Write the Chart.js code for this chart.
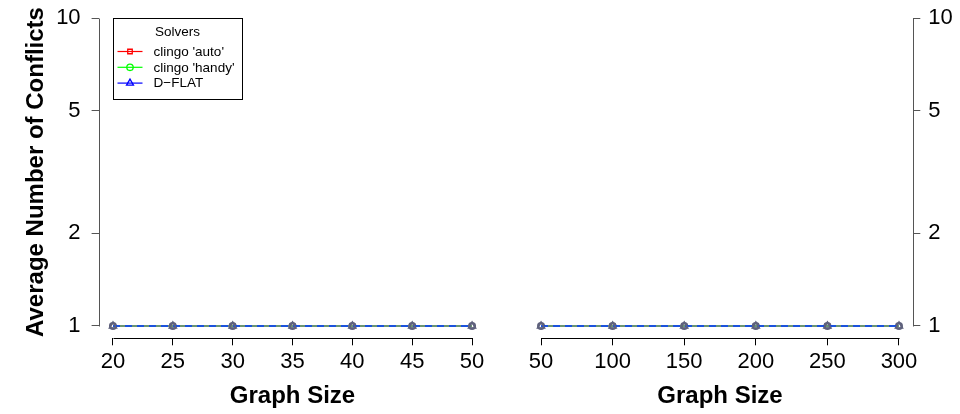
<!DOCTYPE html>
<html>
<head>
<meta charset="utf-8">
<script src="https://cdn.jsdelivr.net/npm/chart.js@4.4.1/dist/chart.umd.min.js"></script>
<style>
  html, body { margin: 0; padding: 0; background: #fff; }
  #wrap { position: relative; width: 960px; height: 414px; }
  #leftChart { position: absolute; left: 0; top: 0; }
  #rightChart { position: absolute; left: 500px; top: 0; }
</style>
</head>
<body>
<div id="wrap">
  <canvas id="leftChart" width="500" height="414"></canvas>
  <canvas id="rightChart" width="460" height="414"></canvas>
</div>
<script>
// Solvers
const solverNames = ["clingo 'auto'", "clingo 'handy'", 'D\u2212FLAT'];
const solverColors = ['#ff0000', '#00ff00', '#0000ff'];
const solverMarkers = ['rect', 'circle', 'triangle'];

// Left panel: small graphs
const smallSizes = [20, 25, 30, 35, 40, 45, 50];
const smallAuto  = [1, 1, 1, 1, 1, 1, 1];
const smallHandy = [1, 1, 1, 1, 1, 1, 1];
const smallDflat = [1, 1, 1, 1, 1, 1, 1];
const smallTicks = [20, 25, 30, 35, 40, 45, 50];

// Right panel: large graphs
const largeSizes = [50, 100, 150, 200, 250, 300];
const largeAuto  = [1, 1, 1, 1, 1, 1];
const largeHandy = [1, 1, 1, 1, 1, 1];
const largeDflat = [1, 1, 1, 1, 1, 1];
const largeTicks = [50, 100, 150, 200, 250, 300];

const yTicks = [1, 2, 5, 10];

Chart.defaults.font.family = "'Liberation Sans', Arial, sans-serif";
Chart.defaults.color = '#000';

const FONT = { size: 22 };
const TITLE_FONT = { size: 24, weight: 'bold' };

function pad4(min, max) {
  // R style axis extension (4% each side)
  const d = (max - min) * 0.04;
  return [min - d, max + d];
}

function makeDatasets(xs, auto, handy, dflat) {
  const series = [auto, handy, dflat];
  const lineCols = ['rgba(110,110,120,1)', 'rgba(0,160,0,0.35)', 'rgba(0,60,255,1)'];
  const dashes = [[], [], [7, 5]];
  const radii = [3.2, 3.2, 4];
  return series.map((vals, i) => ({
    label: solverNames[i],
    data: xs.map((x, j) => ({ x: x, y: vals[j] })),
    borderColor: lineCols[i],
    borderWidth: 1.3,
    borderDash: dashes[i],
    pointStyle: solverMarkers[i],
    pointRadius: radii[i],
    pointBorderWidth: 1.6,
    pointBorderColor: 'rgba(95,98,125,1)',
    pointBackgroundColor: 'rgba(0,0,0,0)',
    order: 3 - i,
    tension: 0,
    fill: false,
  }));
}

// draws R-like axis lines spanning only from first to last tick
const rAxes = {
  id: 'rAxes',
  afterDraw(chart, args, opts) {
    const ctx = chart.ctx;
    const x = chart.scales.x, y = chart.scales.y;
    ctx.save();
    ctx.lineWidth = 1;
    ctx.strokeStyle = '#000';
    const yb = Math.round(chart.chartArea.bottom) + 0.5;
    ctx.beginPath();
    ctx.moveTo(Math.round(x.getPixelForValue(opts.xTicks[0])) + 0.5, yb);
    ctx.lineTo(Math.round(x.getPixelForValue(opts.xTicks[opts.xTicks.length - 1])) + 0.5, yb);
    ctx.stroke();
    ctx.strokeStyle = '#555';
    const xa = Math.round(opts.side === 'left' ? chart.chartArea.left : chart.chartArea.right) + 0.5;
    ctx.beginPath();
    ctx.moveTo(xa, Math.round(y.getPixelForValue(yTicks[0])) + 0.5);
    ctx.lineTo(xa, Math.round(y.getPixelForValue(yTicks[yTicks.length - 1])) + 0.5);
    ctx.stroke();
    ctx.restore();
  }
};

// boxed legend at top-left of the data range
const boxLegend = {
  id: 'boxLegend',
  afterDraw(chart, args, opts) {
    if (!opts.show) return;
    const ctx = chart.ctx;
    const left = Math.round(chart.scales.x.getPixelForValue(smallSizes[0])) + 0.5;
    const top = Math.round(chart.scales.y.getPixelForValue(10)) + 0.5;
    const w = 129, h = 81;
    ctx.save();
    ctx.strokeStyle = '#000';
    ctx.lineWidth = 1;
    ctx.strokeRect(left, top, w, h);
    ctx.fillStyle = '#000';
    ctx.font = "13.5px 'Liberation Sans', Arial, sans-serif";
    ctx.textAlign = 'center';
    ctx.textBaseline = 'middle';
    ctx.fillText('Solvers', left + 64, top + 13.5);
    ctx.textAlign = 'left';
    for (let i = 0; i < solverNames.length; i++) {
      const cy = top + 33 + i * 15.8;
      ctx.strokeStyle = solverColors[i];
      ctx.lineWidth = 1.2;
      ctx.beginPath();
      ctx.moveTo(left + 4, cy);
      ctx.lineTo(left + 29, cy);
      ctx.stroke();
      ctx.fillStyle = 'rgba(0,0,0,0)';
      ctx.lineWidth = 1.3;
      Chart.helpers.drawPoint(ctx, { pointStyle: solverMarkers[i], radius: i === 2 ? 4 : 3.2, borderWidth: 1.3, rotation: 0 }, left + 16.5, cy);
      ctx.fillStyle = '#000';
      ctx.fillText(solverNames[i], left + 40, cy + 0.5);
    }
    ctx.restore();
  }
};

function makeChart(canvasId, xs, auto, handy, dflat, xTicks, side) {
  const [xmin, xmax] = pad4(xs[0], xs[xs.length - 1]);
  const ymin = Math.pow(10, -0.04), ymax = Math.pow(10, 1.04);
  const isLeft = side === 'left';
  return new Chart(document.getElementById(canvasId), {
    type: 'line',
    data: { datasets: makeDatasets(xs, auto, handy, dflat) },
    plugins: [rAxes, boxLegend],
    options: {
      responsive: false,
      animation: false,
      layout: {
        padding: isLeft
          ? { left: 0, top: 5.7, right: 13.6, bottom: 0 }
          : { left: 26.7, top: 5.7, right: 0, bottom: 0 }
      },
      scales: {
        x: {
          type: 'linear',
          min: xmin,
          max: xmax,
          afterBuildTicks: s => { s.ticks = xTicks.map(v => ({ value: v })); },
          afterFit: s => { s.height = 75.7; s.paddingLeft = 0; s.paddingRight = 0; },
          border: { display: false },
          grid: { drawOnChartArea: false, drawTicks: true, tickLength: 7, color: '#000', tickColor: '#000' },
          ticks: { font: FONT, color: '#000', padding: 3, maxRotation: 0, autoSkip: false, callback: v => String(v) },
          title: { display: true, text: 'Graph Size', font: TITLE_FONT, color: '#000', padding: { top: 0, bottom: 3 } }
        },
        y: {
          type: 'logarithmic',
          position: side,
          min: ymin,
          max: ymax,
          afterBuildTicks: s => { s.ticks = yTicks.map(v => ({ value: v })); },
          afterFit: s => { s.width = isLeft ? 98.6 : 46.7; s.paddingTop = 0; s.paddingBottom = 0; },
          border: { display: false },
          grid: { drawOnChartArea: false, drawTicks: true, tickLength: 7, color: '#555', tickColor: '#555' },
          ticks: { font: FONT, color: '#000', padding: isLeft ? 11 : 8, autoSkip: false, callback: v => String(v) },
          title: {
            display: isLeft,
            text: 'Average Number of Conflicts',
            font: TITLE_FONT,
            color: '#000',
            padding: { top: 22, bottom: 0 }
          }
        }
      },
      plugins: {
        legend: { display: false },
        tooltip: { enabled: false },
        rAxes: { side: side, xTicks: xTicks },
        boxLegend: { show: isLeft }
      }
    }
  });
}

makeChart('leftChart', smallSizes, smallAuto, smallHandy, smallDflat, smallTicks, 'left');
makeChart('rightChart', largeSizes, largeAuto, largeHandy, largeDflat, largeTicks, 'right');
</script>
</body>
</html>
